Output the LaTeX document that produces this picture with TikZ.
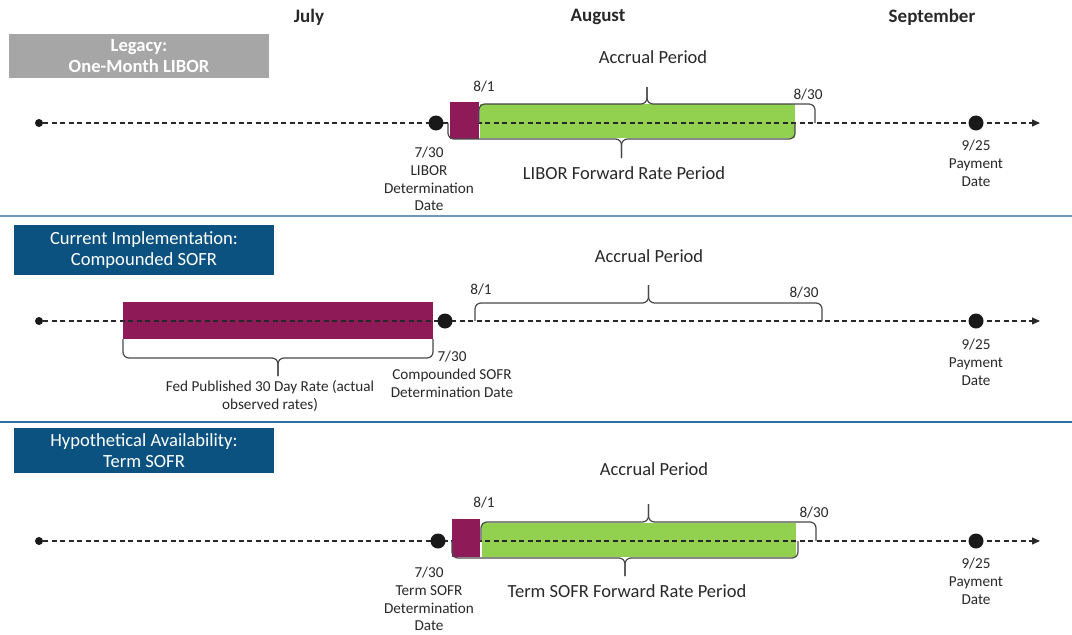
\documentclass[tikz,border=0pt]{standalone}
\usepackage{fontspec}
\setmainfont{Carlito}
\usepackage{xcolor}
\definecolor{plum}{RGB}{142,27,87}
\definecolor{leaf}{RGB}{146,208,80}
\definecolor{hdrblue}{RGB}{11,82,128}
\definecolor{hdrgray}{RGB}{166,166,166}
\definecolor{ruleA}{RGB}{108,152,190}
\definecolor{ruleB}{RGB}{46,108,164}
\definecolor{ink}{RGB}{40,40,40}
\usepackage{tikz}
\usetikzlibrary{arrows.meta, positioning, calc}
\newcommand{\monthsz}{\fontsize{19}{22}\selectfont}
\newcommand{\boxsz}{\fontsize{18.6}{21.5}\selectfont}
\newcommand{\persz}{\fontsize{18.5}{21}\selectfont}
\newcommand{\lblsz}{\fontsize{15.2}{17.8}\selectfont}
\tikzstyle{hdr} = [rectangle, minimum width=260pt, text=white, align=center, inner sep=0pt, font=\boxsz]
\tikzstyle{month} = [font=\monthsz\bfseries, text=ink]
\tikzstyle{bigdot} = [circle, fill=black!90, minimum size=15pt, inner sep=0pt]
\tikzstyle{smalldot} = [circle, fill=black!90, minimum size=8pt, inner sep=0pt]
\tikzstyle{lbl} = [align=center, inner sep=0pt, font=\lblsz, text=ink]
\tikzstyle{per} = [inner sep=0pt, font=\persz, text=ink]
\tikzstyle{bar} = [inner sep=0pt, anchor=north west]
\tikzstyle{tline} = [ink, line width=1.1pt, dash pattern=on 5pt off 3.5pt, -{Triangle[length=8pt, width=7pt]}]
\tikzstyle{brc} = [draw=ink!85, line width=1.2pt, rounded corners=6pt]
\tikzstyle{rowrule} = [line width=1.6pt]
% brace: x1, x2, y at the ends, y of the bar, y of the tip
\newcommand{\brc}[5]{%
  \draw[brc] (#1,#3) -- (#1,#4) -- ({(#1+#2)/2},#4) -- ({(#1+#2)/2},#5);
  \draw[brc] (#2,#3) -- (#2,#4) -- ({(#1+#2)/2},#4) -- ({(#1+#2)/2},#5);}

\begin{document}
\begin{tikzpicture}[x=1pt, y=-1pt]
    \useasboundingbox (0,0) rectangle (1072,635);

    % months
    \node[month] (jul) at (309,17) {July};
    \node[month] (aug) at (598,17) {August};
    \node[month] (sep) at (932,17) {September};

    % ---------- legacy libor
    \node[hdr, fill=hdrgray, minimum height=44pt, font=\boxsz\bfseries] (legacy) at (139,56) {Legacy:\\One-Month LIBOR};
    \node[smalldot] (s1) at (39,123) {};
    \coordinate (e1) at (1040,123);
    \node[bar, fill=leaf, minimum width=315pt, minimum height=34pt] (fwd1) at (480,104) {};
    \draw[tline] (s1) -- (e1);
    \node[bar, fill=plum, minimum width=29pt, minimum height=37pt] (fix1) at (450,102) {};
    \node[bigdot] (d1) at (436,123) {};
    \node[bigdot] (p1) at (976,123) {};
    \brc{479}{815}{123}{104}{87}
    \brc{448}{795}{123}{139}{158}
    \node[per] (acc1) at (653,57) {Accrual Period};
    \node[lbl] (beg1) at (484,87) {8/1};
    \node[lbl] (end1) at (808,95) {8/30};
    \node[per] (rate1) at (624,173) {LIBOR Forward Rate Period};
    \node[lbl, below=16pt of d1, xshift=-7pt] (d1l) {7/30\\LIBOR\\Determination\\Date};
    \node[lbl, below=9pt of p1] (p1l) {9/25\\Payment\\Date};

    \draw[rowrule, ruleA] (0,216) -- (1072,216);

    % ---------- compounded sofr
    \node[hdr, fill=hdrblue, minimum height=50pt] (current) at (144,250) {Current Implementation:\\Compounded SOFR};
    \node[smalldot] (s2) at (39,321) {};
    \coordinate (e2) at (1040,321);
    \node[bar, fill=plum, minimum width=310pt, minimum height=37pt] (obs2) at (123,302) {};
    \draw[tline] (s2) -- (e2);
    \node[bigdot] (d2) at (445,321) {};
    \node[bigdot] (p2) at (976,321) {};
    \brc{475}{822}{321}{303}{285}
    \brc{123}{433}{339}{358}{376}
    \node[per] (acc2) at (649,256) {Accrual Period};
    \node[lbl] (beg2) at (481,290) {8/1};
    \node[lbl] (end2) at (804,293) {8/30};
    \node[lbl] (fed2) at (270,396) {Fed Published 30 Day Rate (actual\\observed rates)};
    \node[lbl, below=22pt of d2, xshift=7pt] (d2l) {7/30\\Compounded SOFR\\Determination Date};
    \node[lbl, below=10pt of p2] (p2l) {9/25\\Payment\\Date};

    \draw[rowrule, ruleB] (0,422) -- (1072,422);

    % ---------- term sofr
    \node[hdr, fill=hdrblue, minimum height=45pt] (hypo) at (144,450.5) {Hypothetical Availability:\\Term SOFR};
    \node[smalldot] (s3) at (39,541) {};
    \coordinate (e3) at (1040,541);
    \node[bar, fill=leaf, minimum width=314pt, minimum height=34pt] (fwd3) at (482,523) {};
    \draw[tline] (s3) -- (e3);
    \node[bar, fill=plum, minimum width=28pt, minimum height=38pt] (fix3) at (452,519) {};
    \node[bigdot] (d3) at (438,541) {};
    \node[bigdot] (p3) at (976,541) {};
    \brc{481}{816}{541}{522}{504}
    \brc{452}{798}{541}{558}{576}
    \node[per] (acc3) at (654,469) {Accrual Period};
    \node[lbl] (beg3) at (484,503) {8/1};
    \node[lbl] (end3) at (814,513) {8/30};
    \node[per] (rate3) at (627,591) {Term SOFR Forward Rate Period};
    \node[lbl, below=18pt of d3, xshift=-9pt] (d3l) {7/30\\Term SOFR\\Determination\\Date};
    \node[lbl, below=9pt of p3] (p3l) {9/25\\Payment\\Date};
\end{tikzpicture}
\end{document}
